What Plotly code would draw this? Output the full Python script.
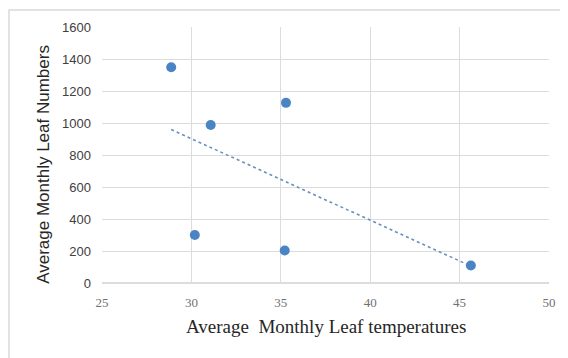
import numpy as np
import plotly.graph_objects as go

temps = [28.87, 31.08, 35.29, 30.19, 35.22, 45.63]
leaf_numbers = [1348, 987, 1126, 300, 203, 109]
x_ticks = [25, 30, 35, 40, 45, 50]
y_ticks = [0, 200, 400, 600, 800, 1000, 1200, 1400, 1600]
x_title = "Average  Monthly Leaf temperatures"
y_title = "Average Monthly Leaf Numbers"

slope, intercept = np.polyfit(temps, leaf_numbers, 1)
tx = [min(temps), max(temps)]
ty = [slope * v + intercept for v in tx]

fig = go.Figure()
fig.add_trace(go.Scatter(x=tx, y=ty, mode="lines",
                         line=dict(color="#6a8fbf", width=1.6, dash="dot"),
                         hoverinfo="skip", showlegend=False))
fig.add_trace(go.Scatter(x=temps, y=leaf_numbers, mode="markers",
                         marker=dict(color="#4a84c4", size=10),
                         showlegend=False))

fig.update_layout(
    width=560, height=350,
    margin=dict(l=94, r=18, t=16, b=75),
    paper_bgcolor="white", plot_bgcolor="white",
    xaxis=dict(range=[25, 50], tickvals=x_ticks, showgrid=True,
               gridcolor="#dcdcdc", gridwidth=1, zeroline=False,
               showline=False, ticks="", ticklabelstandoff=10,
               tickfont=dict(family="Liberation Serif", size=13, color="#707070")),
    yaxis=dict(range=[0, 1600], tickvals=y_ticks, showgrid=True,
               gridcolor="#dcdcdc", gridwidth=1, zeroline=True,
               zerolinecolor="#dcdcdc", showline=False, ticks="",
               ticklabelstandoff=10,
               tickfont=dict(family="Liberation Sans", size=13, color="#404040")),
    annotations=[
        dict(text=x_title, xref="paper", yref="paper", x=0.5, y=-0.17,
             xanchor="center", yanchor="middle", showarrow=False,
             font=dict(family="Liberation Serif", size=19, color="#262626")),
        dict(text=y_title, xref="paper", yref="paper", x=-0.13, y=0.465,
             xanchor="center", yanchor="middle", showarrow=False, textangle=-90,
             font=dict(family="Liberation Sans", size=17, color="#262626")),
    ],
    shapes=[
        dict(type="rect", xref="paper", yref="paper",
             x0=-0.208, x1=1.1, y0=-0.35, y1=1.066,
             line=dict(color="#d9d9d9", width=1.5), layer="below"),
    ],
)

fig.write_html("out.html")
